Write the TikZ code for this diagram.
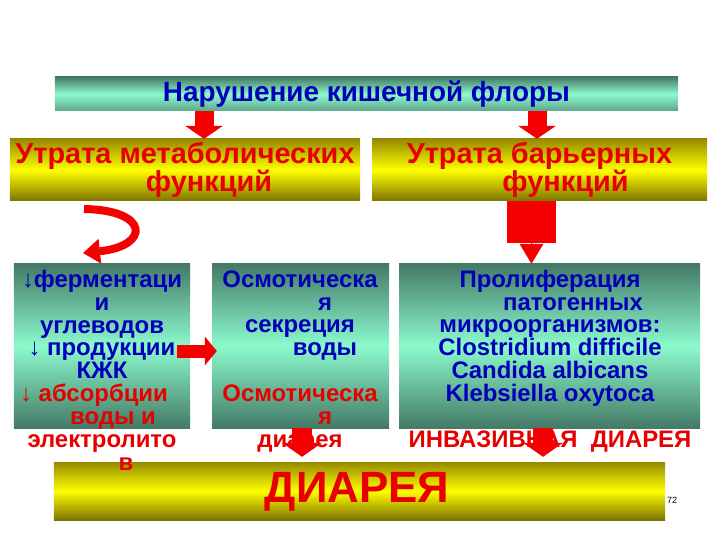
\documentclass[tikz,border=0pt]{standalone}
\usepackage{fontspec}
\setmainfont{Liberation Sans}
\usetikzlibrary{arrows.meta, positioning}

\definecolor{tealdark}{RGB}{68,122,102}
\definecolor{tealmid}{RGB}{95,165,140}
\definecolor{teallight}{RGB}{140,250,205}
\definecolor{olivetop}{RGB}{150,138,0}
\definecolor{olivebot}{RGB}{125,115,0}
\definecolor{brightyellow}{RGB}{255,255,0}
\definecolor{txtblue}{RGB}{0,0,185}
\definecolor{txtred}{RGB}{232,0,0}
\definecolor{arrowred}{RGB}{245,0,0}

\begin{document}
\begin{tikzpicture}[
  x=1bp, y=-1bp,
  tealbar/.style={inner sep=0pt, top color=tealdark, bottom color=tealmid, middle color=teallight},
  tealbox/.style={inner sep=0pt, top color=tealdark, bottom color=tealdark, middle color=teallight},
  goldbar/.style={inner sep=0pt, top color=olivetop, bottom color=olivebot, middle color=brightyellow},
  boxtext/.style={inner sep=0pt, anchor=base, align=center, text=txtblue, font=\bfseries\fontsize{24}{22.9}\selectfont},
  headtext/.style={align=center, text=txtred, font=\bfseries\fontsize{29}{26}\selectfont},
  downarrow/.style={draw=arrowred, line width=19bp, -{Triangle[length=13bp, width=38bp, line width=0pt]}},
  lowarrow/.style={draw=arrowred, line width=20bp, -{Triangle[length=14bp, width=40bp, line width=0pt]}},
  sidearrow/.style={draw=arrowred, line width=13bp, -{Triangle[length=12bp, width=29bp, line width=0pt]}},
]
\useasboundingbox[fill=white] (0,0) rectangle (720,540);

% Top bar
\node[tealbar, minimum width=623bp, minimum height=34bp, text=txtblue, font=\bfseries\fontsize{28}{28}\selectfont] (flora) at (366.5,94) {Нарушение кишечной флоры};

% Losses
\node[goldbar, minimum width=350bp, minimum height=62bp, headtext] (metab) at (185,170) {Утрата метаболических\\\hspace*{48bp}функций};
\node[goldbar, minimum width=335bp, minimum height=62bp, headtext] (barrier) at (539.5,170) {Утрата барьерных\\\hspace*{52bp}функций};

% Middle boxes
\node[tealbox, minimum width=176bp, minimum height=164bp] (ferment) at (102,346) {};
\node[tealbox, minimum width=177bp, minimum height=164bp] (osmo) at (300.5,346) {};
\node[tealbox, minimum width=301bp, minimum height=164bp] (prolif) at (549.5,346) {};

% Diarrhea bar
\node[goldbar, minimum width=611bp, minimum height=58bp] (diarrhea) at (359.5,491) {};
\node[inner sep=0pt, anchor=base, text=txtred, font=\bfseries\fontsize{44}{44}\selectfont] (diarrheatext) at (357,502) {ДИАРЕЯ};
\node[inner sep=0pt, anchor=base, font=\fontsize{9}{9}\selectfont] (pagenum) at (672,503) {72};

% Box texts (anchored at the baseline of the last line)
\node[boxtext] (fermenttext) at (102,470) {↓ферментаци\\и\hspace*{50bp}\\углеводов\\↓ продукции\\КЖК\\
  \color{txtred}↓ абсорбции\hspace*{16bp}\\\color{txtred}\hspace*{22bp}воды и\\\color{txtred}электролито\\\color{txtred}\hspace*{48bp}в};
\node[boxtext] (osmotext) at (300,447) {Осмотическа\\\hspace*{50bp}я\\секреция\\\hspace*{50bp}воды\\[22.9bp]
  \color{txtred}Осмотическа\\\color{txtred}\hspace*{50bp}я\\\color{txtred}диарея};
\node[boxtext] (prioltext) at (550,447) {Пролиферация\\\hspace*{46bp}патогенных\\микроорганизмов:\\Clostridium difficile\\Candida albicans\\Klebsiella oxytoca\\[22.9bp]
  \color{txtred}ИНВАЗИВНАЯ\ \ ДИАРЕЯ};

% Arrows
\draw[downarrow] (204,0 |- flora.south) -- (204,0 |- metab.north);
\draw[downarrow] (537,0 |- flora.south) -- (537,0 |- barrier.north);
\coordinate (neck) at (531.5,243);
\draw[draw=arrowred, line width=49bp] (neck |- barrier.south) -- (neck);
\draw[draw=arrowred, line width=1bp, -{Triangle[length=20bp, width=24bp, line width=0pt]}] (neck) -- (neck |- prolif.north);
\coordinate (curlstart) at (84,209);
\coordinate (curlend) at (83,253);
\draw[draw=arrowred, line width=8bp, -{Triangle[length=17bp, width=25bp, line width=0pt]}] (curlstart) .. controls (150,210) and (150,246) .. (curlend);
\draw[sidearrow] ([xshift=-13bp, yshift=-5bp]ferment.east) -- ([xshift=5bp, yshift=-5bp]osmo.west);
\draw[lowarrow, shorten >=5bp] (302,0 |- osmo.south) -- (302,0 |- diarrhea.north);
\draw[lowarrow, shorten >=5bp] (543,0 |- prolif.south) -- (543,0 |- diarrhea.north);
\end{tikzpicture}
\end{document}
